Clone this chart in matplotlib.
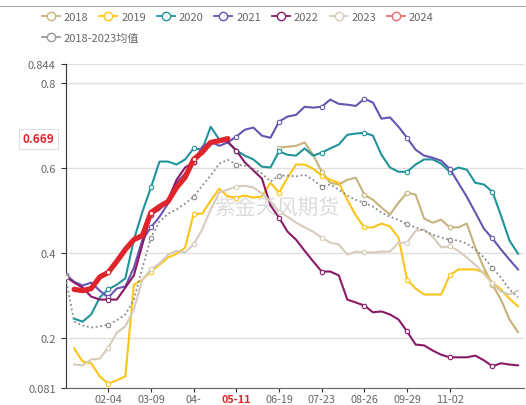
import numpy as np
import matplotlib

matplotlib.use("Agg")
import matplotlib.pyplot as plt
from matplotlib.lines import Line2D

plt.rcParams["font.family"] = ["Noto Sans CJK SC", "DejaVu Sans"]

N = None
# weekly points, index 0..53
tick_pos = [5, 10, 15, 20, 25, 30, 35, 40, 45]
tick_labels = ["02-04", "03-09", "04-", "05-11", "06-19", "07-23", "08-26", "09-29", "11-02"]
y_ticks = [0.081, 0.2, 0.4, 0.6, 0.8, 0.844]
y_tick_labels = ["0.081", "0.2", "0.4", "0.6", "0.8", "0.844"]

s2018 = [N] * 25 + [
    0.648, 0.650, 0.652, 0.660, 0.631, 0.591, 0.565, 0.561, 0.572, 0.577,
    0.537, 0.525, 0.507, 0.490, 0.518, 0.542, 0.537, 0.481, 0.471, 0.478,
    0.460, 0.460, 0.469, 0.412, 0.365, 0.325, 0.290, 0.243, 0.213]
s2019 = [N,
    0.175, 0.144, 0.140, 0.109, 0.092, 0.100, 0.109, 0.325, 0.337, 0.356,
    0.372, 0.389, 0.398, 0.412, 0.492, 0.492, 0.523, 0.551, 0.533, 0.530,
    0.535, 0.530, 0.533, 0.565, 0.542, 0.577, 0.608, 0.608, 0.598, 0.582,
    0.572, 0.565, 0.525, 0.488, 0.460, 0.460, 0.469, 0.462, 0.436, 0.337,
    0.316, 0.302, 0.302, 0.302, 0.347, 0.361, 0.361, 0.361, 0.354, 0.330,
    0.314, 0.292, 0.274]
s2020 = [N,
    0.245, 0.238, 0.255, 0.295, 0.314, 0.325, 0.340, 0.431, 0.497, 0.554,
    0.615, 0.615, 0.608, 0.620, 0.646, 0.643, 0.697, 0.667, 0.660, 0.641,
    0.629, 0.620, 0.603, 0.601, 0.639, 0.631, 0.629, 0.646, 0.629, 0.636,
    0.646, 0.655, 0.678, 0.681, 0.683, 0.676, 0.631, 0.601, 0.591, 0.591,
    0.608, 0.620, 0.620, 0.610, 0.591, 0.601, 0.596, 0.565, 0.561, 0.544,
    0.488, 0.429, 0.398]
s2021 = [
    0.349, 0.332, 0.323, 0.330, 0.311, 0.295, 0.316, 0.321, 0.365, 0.431,
    0.460, 0.485, 0.516, 0.565, 0.587, 0.613, 0.650, 0.662, 0.652, 0.660,
    0.674, 0.690, 0.695, 0.676, 0.671, 0.709, 0.721, 0.725, 0.744, 0.742,
    0.744, 0.761, 0.751, 0.749, 0.746, 0.763, 0.754, 0.716, 0.719, 0.697,
    0.671, 0.643, 0.629, 0.624, 0.617, 0.598, 0.565, 0.532, 0.495, 0.457,
    0.434, 0.408, 0.384, 0.361]
s2022 = [
    0.344, 0.330, 0.318, 0.297, 0.290, 0.290, 0.290, 0.318, 0.347, 0.420,
    0.490, 0.502, 0.525, 0.572, 0.601, 0.613, 0.638, 0.662, 0.667, 0.662,
    0.641, 0.613, 0.594, 0.575, 0.512, 0.483, 0.450, 0.431, 0.405, 0.380,
    0.356, 0.356, 0.347, 0.290, 0.283, 0.276, 0.260, 0.262, 0.255, 0.243,
    0.215, 0.184, 0.182, 0.170, 0.160, 0.154, 0.154, 0.154, 0.158, 0.147,
    0.133, 0.140, 0.137, 0.135]
s2023 = [N,
    0.137, 0.135, 0.149, 0.151, 0.177, 0.212, 0.227, 0.267, 0.337, 0.361,
    0.375, 0.396, 0.405, 0.401, 0.420, 0.455, 0.502, 0.542, 0.549, 0.556,
    0.558, 0.554, 0.540, 0.521, 0.497, 0.485, 0.471, 0.460, 0.450, 0.436,
    0.424, 0.420, 0.396, 0.403, 0.401, 0.401, 0.403, 0.403, 0.424, 0.424,
    0.452, 0.455, 0.438, 0.413, 0.415, 0.405, 0.389, 0.372, 0.351, 0.328,
    0.309, 0.302, 0.311]
s2024 = [N,
    0.314, 0.311, 0.316, 0.343, 0.354, 0.380, 0.408, 0.431, 0.441, 0.495,
    0.509, 0.521, 0.554, 0.578, 0.620, 0.637, 0.660, 0.664, 0.669] + [N] * 34
s_avg = [
    0.342, 0.238, 0.229, 0.224, 0.227, 0.231, 0.241, 0.255, 0.290, 0.365,
    0.436, 0.474, 0.492, 0.502, 0.516, 0.532, 0.558, 0.582, 0.610, 0.619,
    0.608, 0.605, 0.598, 0.587, 0.568, 0.582, 0.582, 0.580, 0.584, 0.572,
    0.556, 0.561, 0.549, 0.535, 0.525, 0.518, 0.509, 0.495, 0.485, 0.478,
    0.467, 0.460, 0.452, 0.443, 0.436, 0.431, 0.429, 0.422, 0.408, 0.389,
    0.365, 0.342, 0.314, 0.295]
latest = 0.669

series = [
    ("2018", s2018, "#c4b37c"),
    ("2019", s2019, "#fcc419"),
    ("2020", s2020, "#20949a"),
    ("2021", s2021, "#6854b0"),
    ("2022", s2022, "#8a1a68"),
    ("2023", s2023, "#d6ccbc"),
]

fig = plt.figure(figsize=(5.26, 4.06), dpi=100)
ax = fig.add_axes([0.1247, 0.0411, 0.8715, 0.798])

x = np.arange(54)
handles = []
for name, vals, color in series:
    y = np.array([np.nan if v is None else v for v in vals], dtype=float)
    ax.plot(x, y, color=color, lw=1.5, marker="o", markevery=slice(0, None, 5),
            ms=3.2, mfc="white", mec=color, mew=0.8, zorder=3)
    handles.append(Line2D([], [], color=color, lw=1.3, marker="o", ms=6, mfc="white", mec=color, mew=1.0, label=name))

y = np.array([np.nan if v is None else v for v in s2024], dtype=float)
ax.plot(x, y, color="#e0242b", lw=3.8, marker="o", markevery=slice(0, None, 5),
        ms=3.2, mfc="white", mec="#e0242b", mew=0.8, zorder=5, solid_capstyle="round")
handles.append(Line2D([], [], color="#ee6b6b", lw=1.3, marker="o", ms=6, mfc="white", mec="#ee6b6b", mew=1.0, label="2024"))

y = np.array(s_avg, dtype=float)
ax.plot(x, y, color="#8a8a8a", lw=1.3, ls=(0, (1, 1.5)), marker="o", markevery=slice(0, None, 5),
        ms=3.2, mfc="white", mec="#8a8a8a", mew=0.8, zorder=4)
avg_handle = Line2D([], [], color="#999999", lw=1.3, marker="o", ms=6, mfc="white", mec="#999999", mew=1.0, label="2018-2023均值")

ax.set_xlim(0, 53.7)
ax.set_ylim(0.081, 0.844)
ax.set_yticks(y_ticks)
ax.set_yticklabels(y_tick_labels)
ax.set_xticks(tick_pos)
ax.set_xticklabels(tick_labels)
ax.tick_params(axis="both", colors="#333333", labelcolor="#666666", labelsize=8, length=3.5, width=0.8)
ax.tick_params(axis="x", pad=0.8, labelsize=7.8, length=3)
for t in ax.get_xticklabels():
    if t.get_text() == "05-11":
        t.set_color("#e0242b")
        t.set_fontweight("bold")
        t.set_fontsize(7.8)
ax.grid(axis="y", color="#e0e0e0", lw=1)
ax.set_axisbelow(True)
for sp in ("top", "right"):
    ax.spines[sp].set_visible(False)
ax.spines["left"].set_color("#333333")
ax.spines["bottom"].set_color("#666666")

ax.text(24.8, 0.509, "紫金天风期货", fontsize=15, color="#dcdcdc", ha="center", va="center", zorder=2)

ax.text(-3.2, latest, f"{latest:.3f}", transform=ax.transData, ha="center", va="center",
        color="#e0242b", fontsize=8.5, fontweight="bold", clip_on=False,
        bbox=dict(boxstyle="square,pad=0.3", fc="white", ec="#dddddd", lw=0.8))

leg = fig.legend(handles=handles, loc="upper left", bbox_to_anchor=(0.063, 0.99), ncol=7, frameon=False,
                 fontsize=8, handlelength=1.6, handletextpad=0.35, columnspacing=1.0, labelcolor="#666666",
                 borderaxespad=0.4)
fig.legend(handles=[avg_handle], loc="upper left", bbox_to_anchor=(0.063, 0.938), frameon=False,
           fontsize=8, handlelength=1.6, handletextpad=0.35, labelcolor="#666666", borderaxespad=0.4)
fig.add_artist(Line2D([0, 1], [0.983, 0.983], color="#aaaaaa", lw=0.8, transform=fig.transFigure))

fig.savefig("out.png", dpi=100)
